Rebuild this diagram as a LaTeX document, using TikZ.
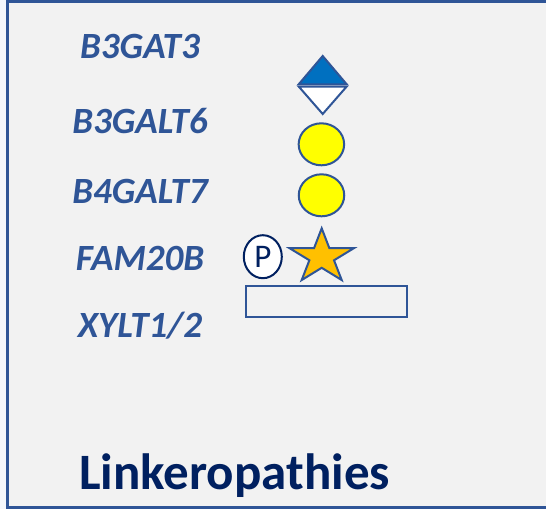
\documentclass[tikz,border=0pt]{standalone}
\usepackage{fontspec}
\setmainfont{Carlito}
\definecolor{panel}{HTML}{F2F2F2}
\definecolor{margin}{HTML}{F4F7FC}
\definecolor{frameblue}{HTML}{2F5597}
\definecolor{navy}{HTML}{002060}
\definecolor{glcblue}{HTML}{0070C0}
\definecolor{galyellow}{HTML}{FFFF00}
\definecolor{xylorange}{HTML}{FFC000}
\tikzset{
  gene/.style={font=\fontsize{37}{42}\selectfont\bfseries\itshape, text=frameblue, inner sep=0pt, anchor=center},
  sugar/.style={draw=frameblue, line width=2pt},
  phos/.style={draw=navy, line width=2pt, fill=white, ellipse, minimum width=38pt, minimum height=43pt, inner sep=0pt,
    font=\fontsize{33}{33}\selectfont, text=navy},
  galcircle/.style={sugar, fill=galyellow, ellipse, minimum width=45.5pt, minimum height=42pt, inner sep=0pt},
}
\usetikzlibrary{shapes.geometric}
\begin{document}
\begin{tikzpicture}[x=1pt, y=-1pt]
  % canvas and panel
  \fill[margin] (0,0) rectangle (546,509);
  \fill[panel] (7,0) rectangle (546,509);
  \useasboundingbox (0,0) rectangle (546,509);
  \draw[frameblue, line width=2.6pt] (548,1.3) -- (7.3,1.3) -- (7.3,507.7) -- (548,507.7);

  % enzyme names
  \node[gene] (b3gat3)  at (140,46)  {B3GAT3};
  \node[gene] (b3galt6) at (140,121) {B3GALT6};
  \node[gene] (b4galt7) at (140,191) {B4GALT7};
  \node[gene] (fam20b)  at (140,258) {FAM20B};
  \node[gene] (xylt)    at (140,326) {XYLT1/2};

  % GlcA: half-filled diamond
  \draw[sugar, fill=glcblue, line join=miter] (298.7,84.3) -- (322.7,56) -- (346.7,84.3) -- cycle;
  \draw[sugar, fill=white, line join=miter] (298.7,86.5) -- (346.7,86.5) -- (322.7,114) -- cycle;

  % two galactose residues
  \node[galcircle] (gal2) at (321.4,144.3) {};
  \node[galcircle] (gal1) at (321.5,195.3) {};

  % xylose star with phosphate
  \begin{scope}[shift={(321.7,256.9)}, x=1.19pt, y=1pt]
    \draw[sugar, fill=xylorange, line join=miter]
      (90:28.6) -- (126:10.9) -- (162:28.6) -- (198:10.9) -- (234:28.6) -- (270:10.9)
      -- (306:28.6) -- (342:10.9) -- (18:28.6) -- (54:10.9) -- cycle;
  \end{scope}
  \node[phos] (p) at (262.8,256.7) {P};

  % core protein
  \node[draw=frameblue, line width=2pt, minimum width=161pt, minimum height=31.5pt, inner sep=0pt] (core) at (326.8,301.5) {};

  % title
  \node[font=\fontsize{51}{56}\selectfont\bfseries, text=navy, inner sep=0pt, anchor=base west] (title) at (79,489) {Linkeropathies};
\end{tikzpicture}
\end{document}
